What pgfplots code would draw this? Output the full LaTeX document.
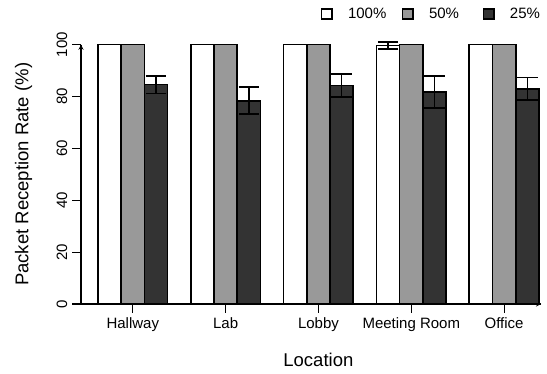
\documentclass[border=0pt]{standalone}
\usepackage{pgfplots}
\pgfplotsset{compat=1.18}
\usepackage{fontspec}
\setmainfont{Liberation Sans}
\definecolor{midgray}{HTML}{999999}
\definecolor{darkgray}{HTML}{333333}
\begin{document}
\begin{tikzpicture}
\begin{axis}[
  at={(0,0)}, anchor=south west,
  scale only axis, width=460bp, height=259.3bp,
  xmin=0.267, xmax=20.09, ymin=0, ymax=100,
  clip=false,
  axis x line=bottom, axis y line=left,
  axis line style={line width=1.2bp, draw=black},
  tick align=outside, major tick length=8.5bp,
  tick style={line width=1.2bp, draw=black},
  xtick={2.5,6.5,10.5,14.5,18.5},
  xticklabels={Hallway, Lab, Lobby, Meeting Room, Office},
  ytick={0,20,40,60,80,100},
  /pgf/number format/assume math mode=true,
  ticklabel style={font=\fontsize{15bp}{18bp}\selectfont},
  yticklabel style={rotate=90, anchor=south, inner sep=0pt},
  yticklabel shift=5bp,
  xticklabel style={anchor=base, inner sep=0pt, yshift=-15.5bp},
  xlabel={Location},
  ylabel={Packet Reception Rate (\%)},
  every axis x label/.style={at={(axis description cs:0.516,0)}, anchor=base, yshift=-62.7bp, font=\fontsize{18.5bp}{22bp}\selectfont},
  every axis y label/.style={at={(axis description cs:0,0.5)}, xshift=-52.6bp, rotate=90, anchor=base, font=\fontsize{18.5bp}{22bp}\selectfont},
  legend columns=3,
  legend style={at={(axis description cs:0,0)}, anchor=west, xshift=239.5bp, yshift=290bp,
    draw=none, fill=none, inner sep=0pt, nodes={inner sep=0pt},
    font=\fontsize{15bp}{18bp}\selectfont,
    /tikz/every odd column/.append style={column sep=15.5bp},
    /tikz/every even column/.append style={column sep=12.7bp}},
  legend cell align=left,
  legend image code/.code={\draw[#1, line width=1.6bp] (0bp,-4.8bp) rectangle (10.2bp,4.8bp);},
]
\addplot[ybar, bar width=1, bar shift=0pt, fill=white, draw=black, line width=1.6bp,
  error bars/.cd, y dir=both, y explicit,
  error bar style={line width=1.6bp, black},
  error mark options={line width=1.6bp, mark size=10.3bp, black, rotate=90}]
  coordinates {(1.5,100) +- (0,0) (5.5,100) +- (0,0) (9.5,100) +- (0,0) (13.5,99.7) +- (0,1.3) (17.5,100) +- (0,0)};
\addplot[ybar, bar width=1, bar shift=0pt, fill=midgray, draw=black, line width=1.6bp,
  error bars/.cd, y dir=both, y explicit,
  error bar style={line width=1.6bp, black},
  error mark options={line width=1.6bp, mark size=10.3bp, black, rotate=90}]
  coordinates {(2.5,100) +- (0,0) (6.5,100) +- (0,0) (10.5,100) +- (0,0) (14.5,100) +- (0,0) (18.5,100) +- (0,0)};
\addplot[ybar, bar width=1, bar shift=0pt, fill=darkgray, draw=black, line width=1.6bp,
  error bars/.cd, y dir=both, y explicit,
  error bar style={line width=1.6bp, black},
  error mark options={line width=1.6bp, mark size=10.3bp, black, rotate=90}]
  coordinates {(3.5,84.6) +- (0,3.4) (7.5,78.4) +- (0,5.2) (11.5,84.2) +- (0,4.4) (15.5,81.7) +- (0,6.2) (19.5,83.0) +- (0,4.4)};
\legend{\makebox[41bp][l]{100\%}, \makebox[41bp][l]{50\%}, \makebox[41bp][l]{25\%}}
\end{axis}
% axis lines and tick marks as thin filled rectangles
\fill[black] (-0.6bp,-0.6bp) rectangle (0.6bp,259.3bp);
\fill[black] (-0.6bp,-0.6bp) rectangle (460bp,0.6bp);
\fill[black] (-8.5bp,-0.6bp) rectangle (0bp,0.6bp);
\fill[black] (-8.5bp,51.26bp) rectangle (0bp,52.46bp);
\fill[black] (-8.5bp,103.12bp) rectangle (0bp,104.32bp);
\fill[black] (-8.5bp,154.98bp) rectangle (0bp,156.18bp);
\fill[black] (-8.5bp,206.84bp) rectangle (0bp,208.04bp);
\fill[black] (-8.5bp,258.7bp) rectangle (0bp,259.9bp);
\fill[black] (51.22bp,-8.5bp) rectangle (52.42bp,0bp);
\fill[black] (144.04bp,-8.5bp) rectangle (145.24bp,0bp);
\fill[black] (236.86bp,-8.5bp) rectangle (238.06bp,0bp);
\fill[black] (329.68bp,-8.5bp) rectangle (330.88bp,0bp);
\fill[black] (422.5bp,-8.5bp) rectangle (423.7bp,0bp);
\pgfresetboundingbox
\path[use as bounding box] (-81bp,-70bp) rectangle (466bp,304bp);
\end{tikzpicture}
\end{document}
